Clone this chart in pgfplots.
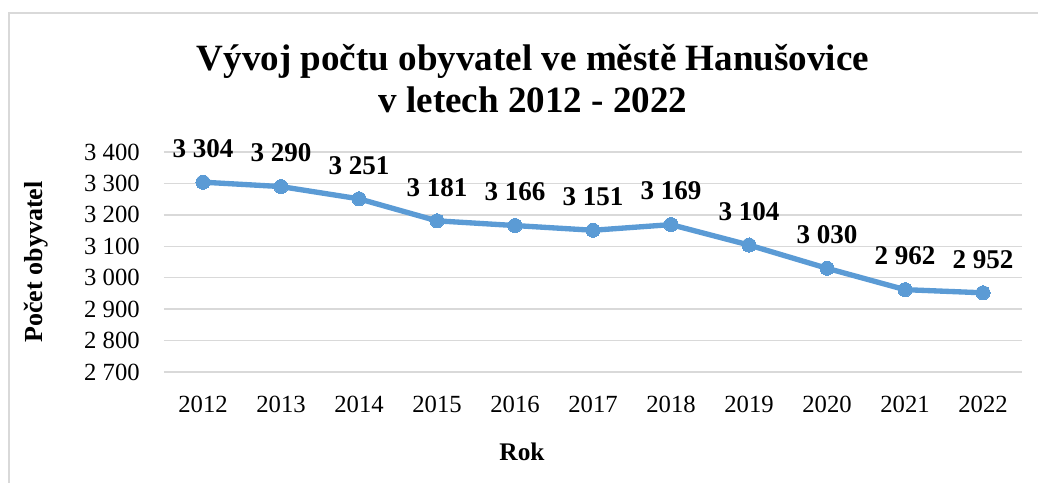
\documentclass[border=0pt]{standalone}
\usepackage{pgfplots}
\pgfplotsset{compat=1.18}
\usepackage{fontspec}
\setmainfont{Liberation Serif}
\definecolor{linec}{HTML}{5B9BD5}
\definecolor{gridc}{HTML}{D9D9D9}
\begin{document}
\begin{tikzpicture}
\path[use as bounding box] (-123pt,-82.5pt) rectangle (655.5pt,279pt);
\draw[gridc, line width=1.3pt] (-116.25pt,-100pt) -- (-116.25pt,269.25pt) -- (700pt,269.25pt);
\begin{axis}[
  at={(0pt,0pt)}, anchor=south west,
  scale only axis, width=643.5pt, height=165pt,
  xmin=2011.5, xmax=2022.5, ymin=2700, ymax=3400,
  ytick={2700,2800,...,3400}, xtick=data,
  ymajorgrids, grid style={gridc, line width=1pt},
  axis line style={draw=none}, tick style={draw=none},
  /pgf/number format/assume math mode=true,
  /pgf/number format/1000 sep={\ },
  yticklabel style={font=\fontsize{18.5}{22}\selectfont, anchor=east, inner sep=0pt, xshift=-18pt},
  xticklabel style={font=\fontsize{18.5}{22}\selectfont, anchor=north, inner sep=0pt, yshift=-18pt, /pgf/number format/1000 sep={}},
  clip=false,
  nodes near coords,
  every node near coord/.append style={anchor=base, inner sep=0pt, yshift=18.5pt, text=black, font=\fontsize{20.3}{24}\selectfont\bfseries},
]
\addplot[color=linec, line width=4pt, mark=*, mark size=5.3pt, mark options={fill=linec, draw=linec, line width=0pt}] coordinates {
(2012,3304) (2013,3290) (2014,3251) (2015,3181) (2016,3166) (2017,3151)
(2018,3169) (2019,3104) (2020,3030) (2021,2962) (2022,2952)
};
\end{axis}
\node[align=center, font=\fontsize{27.8}{31.5}\selectfont\bfseries] at (276.75pt,220pt) {Vývoj počtu obyvatel ve městě Hanušovice\\v letech 2012 - 2022};
\node[font=\fontsize{19}{22}\selectfont\bfseries] at (268.5pt,-60pt) {Rok};
\node[rotate=90, font=\fontsize{19.5}{22}\selectfont\bfseries] at (-96pt,82.5pt) {Počet obyvatel};
\end{tikzpicture}
\end{document}
